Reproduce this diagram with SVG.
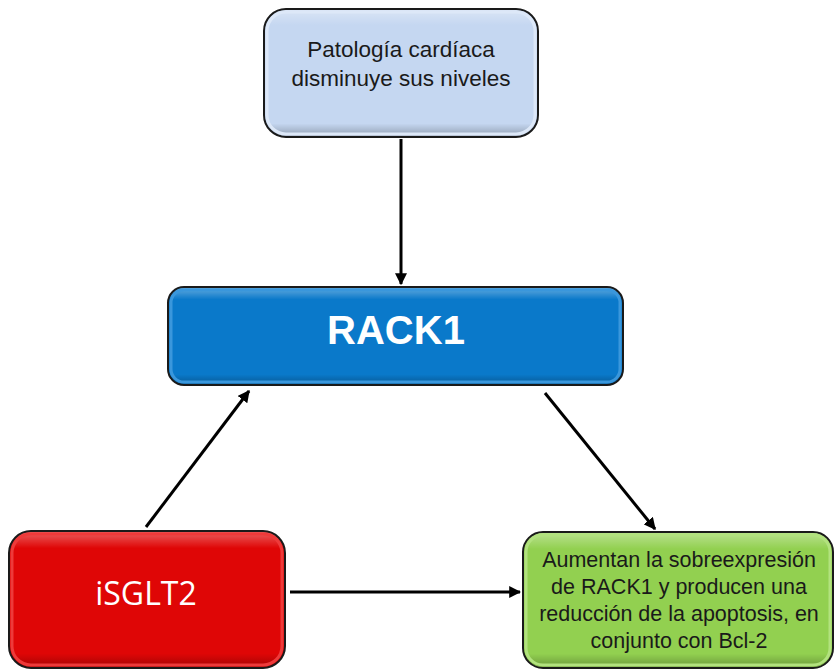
<svg xmlns="http://www.w3.org/2000/svg" width="835" height="670" viewBox="0 0 835 670">
  <defs>
    <style>
      .box { stroke: #1a1a1a; stroke-width: 2; }
      .bevel { fill: none; stroke-width: 3; }
      .shade { fill: url(#shade); }
      .conn { stroke: #000; stroke-width: 3; fill: none; marker-end: url(#arrow); }
      .txt { font-family: "Liberation Sans", Arial, sans-serif; text-anchor: middle; }
    </style>
    <linearGradient id="shade" x1="0" y1="0" x2="0" y2="1">
      <stop offset="0" stop-color="#fff" stop-opacity="0.35"/>
      <stop offset="0.12" stop-color="#fff" stop-opacity="0"/>
      <stop offset="0.9" stop-color="#000" stop-opacity="0"/>
      <stop offset="1" stop-color="#000" stop-opacity="0.25"/>
    </linearGradient>
    <marker id="arrow" viewBox="0 0 10 10" refX="9" refY="5" markerWidth="4" markerHeight="4" orient="auto" markerUnits="strokeWidth">
      <path d="M0,0 L10,5 L0,10 z" fill="#000"/>
    </marker>
  </defs>

  <!-- connectors -->
  <g id="connectors">
    <line class="conn" x1="401" y1="139" x2="401" y2="284"/>
    <line class="conn" x1="146" y1="527" x2="249" y2="391"/>
    <line class="conn" x1="545" y1="393" x2="655" y2="529"/>
    <line class="conn" x1="290" y1="592" x2="520" y2="592"/>
  </g>

  <!-- pathology node -->
  <g id="node-patologia">
    <rect class="box" x="264" y="9" width="274" height="128" rx="22" fill="#c5d7f1"/>
    <rect class="shade" x="265" y="10" width="272" height="126" rx="21"/>
    <rect class="bevel" x="267" y="12" width="268" height="122" rx="19" stroke="#dde8f8"/>
    <text class="txt" x="401" y="57" font-size="22.5" fill="#1a1a1a">Patología cardíaca</text>
    <text class="txt" x="401" y="86" font-size="22.5" fill="#1a1a1a">disminuye sus niveles</text>
  </g>

  <!-- RACK1 node -->
  <g id="node-rack1">
    <rect class="box" x="168" y="287" width="455" height="98" rx="16" fill="#0a79ca"/>
    <rect class="shade" x="169" y="288" width="453" height="96" rx="15"/>
    <rect class="bevel" x="171" y="290" width="449" height="92" rx="13" stroke="#3a97dc"/>
    <text class="txt" x="396" y="344" font-size="40" font-weight="bold" fill="#fff">RACK1</text>
  </g>

  <!-- iSGLT2 node -->
  <g id="node-isglt2">
    <rect class="box" x="9" y="531" width="276" height="137" rx="22" fill="#df0606"/>
    <rect class="shade" x="10" y="532" width="274" height="135" rx="21"/>
    <rect class="bevel" x="12" y="534" width="270" height="131" rx="19" stroke="#ee3a3a"/>
    <text x="146" y="605" font-family="'Open Sans', 'Liberation Sans', sans-serif" font-size="32" text-anchor="middle" fill="#fff">iSGLT2</text>
  </g>

  <!-- outcome node -->
  <g id="node-resultado">
    <rect class="box" x="523" y="532" width="310" height="136" rx="20" fill="#92d050"/>
    <rect class="shade" x="524" y="533" width="308" height="134" rx="19"/>
    <rect class="bevel" x="526" y="535" width="304" height="130" rx="17" stroke="#b2e27e"/>
    <text class="txt" x="679" y="567" font-size="21.5" fill="#1a1a1a">Aumentan la sobreexpresión</text>
    <text class="txt" x="679" y="594" font-size="21.5" fill="#1a1a1a">de RACK1 y producen una</text>
    <text class="txt" x="679" y="621" font-size="21.5" fill="#1a1a1a">reducción de la apoptosis, en</text>
    <text class="txt" x="679" y="648" font-size="21.5" fill="#1a1a1a">conjunto con Bcl-2</text>
  </g>
</svg>
